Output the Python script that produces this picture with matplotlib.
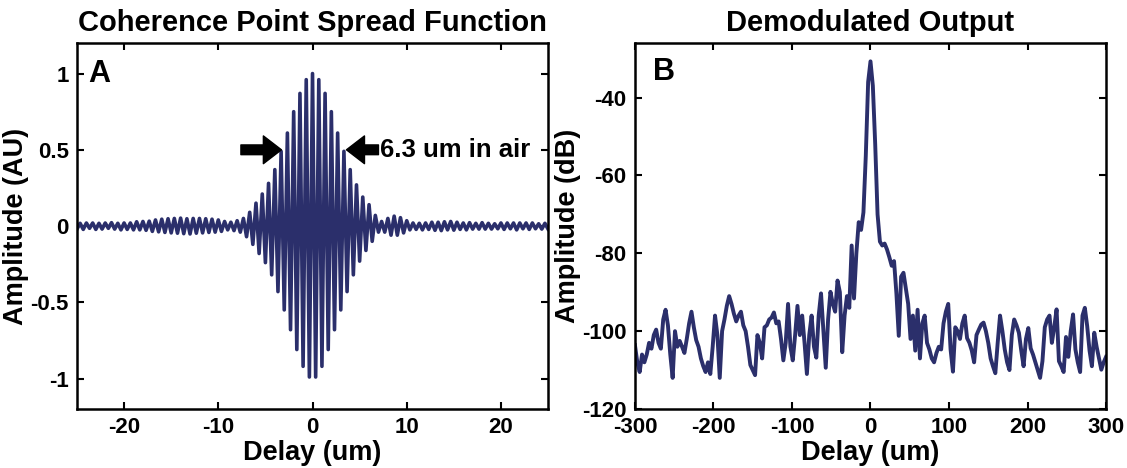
import numpy as np
import matplotlib
matplotlib.use('Agg')
from matplotlib import pyplot as plt

# Panel A: fringe extremes of the coherence PSF, one value every 1/3 um
psf_delay = np.linspace(-25, 25, 151)
psf_amp = [
    -.02, .018, -.022, .02, -.015, .02, -.022, .018, -.02, .02, -.015, .022,
    -.02, .018, -.025, .02, -.022, .02, -.025, .028, -.025, .03, -.028, .032,
    -.035, .04, -.038, .045, -.042, .048, -.045, .05, -.047, .052, -.05, .048,
    -.052, .05, -.047, .05, -.045, .048, -.042, .045, -.04,
    .04, -.035, .03, -.025, .025, -.03, .035, -.04, .05, -.07, .09, -.12,
    .15, -.18, .21, -.24, .28, -.32, .37, -.43, .49, -.55, .61, -.68,
    .75, -.81, .87, -.92, .96, -.99,
    1.0,
    -.99, .96, -.92, .87, -.81, .75, -.68, .61, -.55, .49, -.43, .37,
    -.32, .27, -.23, .19, -.16, .14, -.10, .07, -.04, .03, -.04, .05,
    -.06, .065, -.06, .055, -.045, .035, -.025,
    .02, -.022, .018, -.025, .02, -.022, .025, -.028, .025, -.03,
    .028, -.025, .03, -.027, .025, -.022, .02, -.025, .022, -.02,
    .018, -.02, .022, -.02, .018, -.02, .015, -.018, .02, -.022,
    .02, -.018, .02, -.025, .02, -.018, .02, -.022, .02, -.018,
    .015, -.02, .018, -.02,
]

# Panel B: demodulated output in dB, one value every 3 um
demod_delay = np.linspace(-300, 300, 201)
demod_db = [
    -103.6, -108, -110.5, -106, -108, -106, -103, -104.5, -101, -99.6,
    -103, -104.5, -97, -94.5, -98.5, -106, -112, -100, -104, -102.5,
    -104, -105.6, -102, -98, -95, -99, -102.3, -104, -107, -109,
    -110.5, -108, -111, -104, -96, -101, -112, -100, -97, -93.5,
    -91, -93, -95.5, -97.5, -96, -95, -98.5, -100, -104, -108.7,
    -110, -111.3, -101, -103, -107, -99, -98.5, -97, -96.5, -95.2,
    -98, -97.5, -102, -107.5, -103, -93, -104, -107.5, -101, -93.5,
    -101, -96, -103, -111, -101, -96, -104, -106.8, -96, -90.3,
    -100, -109.4, -97, -89.9, -93, -95, -87, -90, -105.4, -96,
    -91, -94, -78, -91.6, -80, -72, -74, -69.5, -55, -36,
    -30.7, -37, -52, -70, -77, -78, -77.5, -79, -81, -83.2,
    -82, -90.3, -101.2, -86, -85, -89, -93, -102, -96, -105,
    -94.5, -107, -98, -96, -103, -104.7, -107, -108, -105.6, -104,
    -104.7, -98, -95, -93, -104.7, -110.4, -99, -100, -102, -98,
    -96, -101.8, -103, -105, -108, -101, -99.6, -98.3, -97.8, -100,
    -103, -107, -109, -110.8, -103, -96, -100, -104.7, -108, -110,
    -101, -97, -98.5, -100.4, -105, -109, -102, -99.2, -104.4, -106,
    -108, -110, -112, -107.7, -99, -97, -96, -103, -99, -94.4,
    -107.7, -109, -110.5, -101.5, -106.6, -100, -95.7, -104.7, -108, -110.5,
    -96, -94, -98.7, -105, -109, -100.4, -104, -107, -109.9, -108,
    -106.6,
]

line_color = '#2b2f6b'
plt.rcParams['font.family'] = ['Liberation Sans', 'DejaVu Sans']
plt.rcParams['font.weight'] = 'bold'
plt.rcParams['axes.unicode_minus'] = False

fig = plt.figure(figsize=(11.27, 4.68), dpi=100)
ax1 = fig.add_axes([0.0683, 0.126, 0.418, 0.782])
ax2 = fig.add_axes([0.5634, 0.126, 0.418, 0.782])

ax1.plot(psf_delay, psf_amp, color=line_color, lw=2.6)
ax1.set_xlim(-25, 25)
ax1.set_ylim(-1.2, 1.2)
ax1.set_xticks([-20, -10, 0, 10, 20])
ax1.set_yticks([-1, -0.5, 0, 0.5, 1])
ax1.set_yticklabels(['-1', '-0.5', '0', '0.5', '1'])
ax1.set_title('Coherence Point Spread Function', fontsize=21, fontweight='bold', pad=9)
ax1.set_xlabel('Delay (um)', fontsize=19.5, fontweight='bold', labelpad=1)
ax1.set_ylabel('Amplitude (AU)', fontsize=19.5, fontweight='bold', labelpad=1)
ax1.text(-23.8, 1.0, 'A', fontsize=22, fontweight='bold', va='center', ha='left')
ax1.annotate('', xy=(-3.3, 0.5), xytext=(-7.6, 0.5),
             arrowprops=dict(facecolor='black', edgecolor='black', width=7,
                             headwidth=20, headlength=13, shrink=0))
ax1.annotate('', xy=(3.6, 0.5), xytext=(7.0, 0.5),
             arrowprops=dict(facecolor='black', edgecolor='black', width=7,
                             headwidth=20, headlength=13, shrink=0))
ax1.text(7.2, 0.5, '6.3 um in air', fontsize=18.5, fontweight='bold', va='center', ha='left')

ax2.plot(demod_delay, demod_db, color=line_color, lw=2.8)
ax2.set_xlim(-300, 300)
ax2.set_ylim(-120, -26)
ax2.set_xticks([-300, -200, -100, 0, 100, 200, 300])
ax2.set_yticks([-120, -100, -80, -60, -40])
ax2.set_title('Demodulated Output', fontsize=21, fontweight='bold', pad=9)
ax2.set_xlabel('Delay (um)', fontsize=19.5, fontweight='bold', labelpad=1)
ax2.set_ylabel('Amplitude (dB)', fontsize=19.5, fontweight='bold', labelpad=1)
ax2.text(-277, -33.5, 'B', fontsize=22, fontweight='bold', va='center', ha='left')

for ax in (ax1, ax2):
    ax.tick_params(direction='in', top=True, right=True, length=5, width=1.5,
                   labelsize=16, pad=6)
    for lab in ax.get_xticklabels() + ax.get_yticklabels():
        lab.set_fontweight('bold')
    for sp in ax.spines.values():
        sp.set_linewidth(1.8)

fig.savefig('out.png', dpi=100)
